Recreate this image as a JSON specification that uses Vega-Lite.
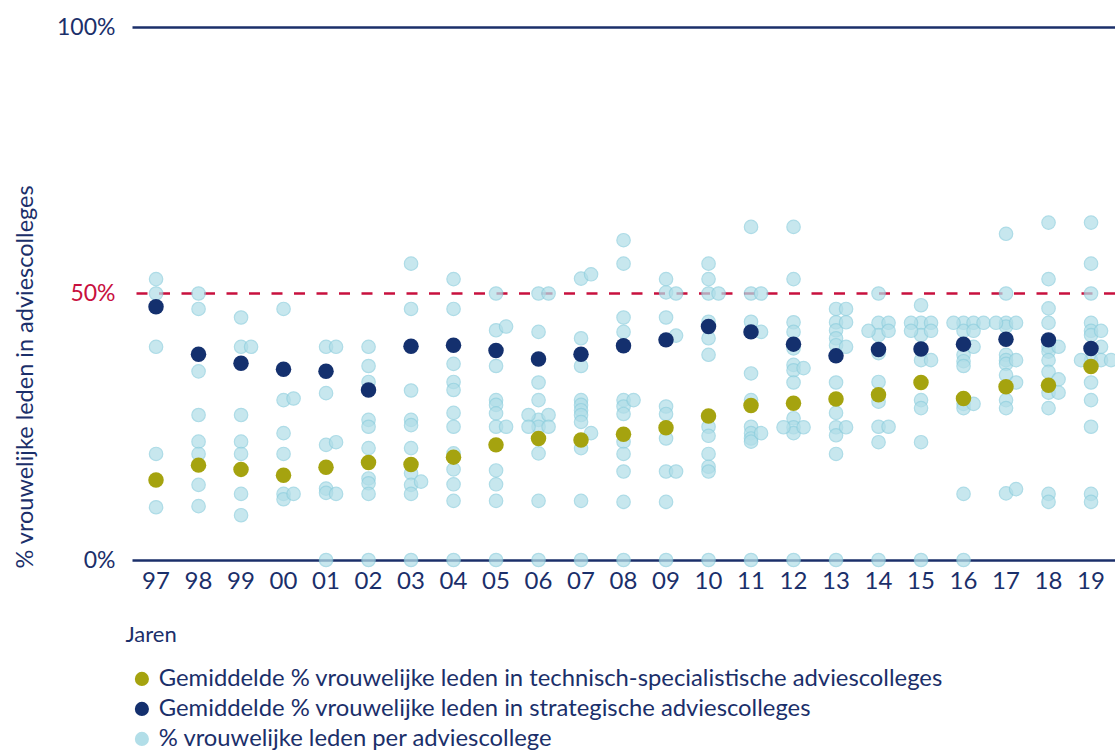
{
  "$schema": "https://vega.github.io/schema/vega-lite/v6.json",
  "autosize": {"type": "none"},
  "width": 983,
  "height": 533,
  "padding": {"left": 132, "top": 27, "right": 0, "bottom": 191},
  "background": "white",
  "config": {"view": {"stroke": null}, "font": "Lato"},
  "datasets": {
    "dots": [
      {"jaar":"97","pct":52.7,"lane":"C"},{"jaar":"97","pct":50,"lane":"C"},{"jaar":"97","pct":40,"lane":"C"},{"jaar":"97","pct":19.9,"lane":"C"},{"jaar":"97","pct":9.9,"lane":"C"},
      {"jaar":"98","pct":50,"lane":"C"},{"jaar":"98","pct":47.1,"lane":"C"},{"jaar":"98","pct":35.4,"lane":"C"},{"jaar":"98","pct":27.2,"lane":"C"},{"jaar":"98","pct":22.2,"lane":"C"},{"jaar":"98","pct":19.9,"lane":"C"},{"jaar":"98","pct":14.1,"lane":"C"},{"jaar":"98","pct":10.1,"lane":"C"},
      {"jaar":"99","pct":45.5,"lane":"C"},{"jaar":"99","pct":40,"lane":"C"},{"jaar":"99","pct":27.2,"lane":"C"},{"jaar":"99","pct":22.2,"lane":"C"},{"jaar":"99","pct":19.9,"lane":"C"},{"jaar":"99","pct":12.4,"lane":"C"},{"jaar":"99","pct":8.4,"lane":"C"},{"jaar":"99","pct":40,"lane":"R"},
      {"jaar":"00","pct":47.1,"lane":"C"},{"jaar":"00","pct":30.0,"lane":"C"},{"jaar":"00","pct":23.8,"lane":"C"},{"jaar":"00","pct":19.9,"lane":"C"},{"jaar":"00","pct":12.4,"lane":"C"},{"jaar":"00","pct":11.4,"lane":"C"},{"jaar":"00","pct":30.3,"lane":"R"},{"jaar":"00","pct":12.4,"lane":"R"},
      {"jaar":"01","pct":40,"lane":"C"},{"jaar":"01","pct":31.3,"lane":"C"},{"jaar":"01","pct":21.6,"lane":"C"},{"jaar":"01","pct":13.4,"lane":"C"},{"jaar":"01","pct":12.6,"lane":"C"},{"jaar":"01","pct":0,"lane":"C"},{"jaar":"01","pct":40,"lane":"R"},{"jaar":"01","pct":22.1,"lane":"R"},{"jaar":"01","pct":12.4,"lane":"R"},
      {"jaar":"02","pct":40,"lane":"C"},{"jaar":"02","pct":36.4,"lane":"C"},{"jaar":"02","pct":33.4,"lane":"C"},{"jaar":"02","pct":26.3,"lane":"C"},{"jaar":"02","pct":25.0,"lane":"C"},{"jaar":"02","pct":21.0,"lane":"C"},{"jaar":"02","pct":15.3,"lane":"C"},{"jaar":"02","pct":14.4,"lane":"C"},{"jaar":"02","pct":12.4,"lane":"C"},{"jaar":"02","pct":0,"lane":"C"},
      {"jaar":"03","pct":55.6,"lane":"C"},{"jaar":"03","pct":47.1,"lane":"C"},{"jaar":"03","pct":31.8,"lane":"C"},{"jaar":"03","pct":26.3,"lane":"C"},{"jaar":"03","pct":25.3,"lane":"C"},{"jaar":"03","pct":21.0,"lane":"C"},{"jaar":"03","pct":16.3,"lane":"C"},{"jaar":"03","pct":14.1,"lane":"C"},{"jaar":"03","pct":12.4,"lane":"C"},{"jaar":"03","pct":0,"lane":"C"},{"jaar":"03","pct":14.7,"lane":"R"},
      {"jaar":"04","pct":52.7,"lane":"C"},{"jaar":"04","pct":47.1,"lane":"C"},{"jaar":"04","pct":36.8,"lane":"C"},{"jaar":"04","pct":33.4,"lane":"C"},{"jaar":"04","pct":31.9,"lane":"C"},{"jaar":"04","pct":27.6,"lane":"C"},{"jaar":"04","pct":25.0,"lane":"C"},{"jaar":"04","pct":20.0,"lane":"C"},{"jaar":"04","pct":17.0,"lane":"C"},{"jaar":"04","pct":14.2,"lane":"C"},{"jaar":"04","pct":11.1,"lane":"C"},{"jaar":"04","pct":0,"lane":"C"},
      {"jaar":"05","pct":50,"lane":"C"},{"jaar":"05","pct":43.1,"lane":"C"},{"jaar":"05","pct":36.4,"lane":"C"},{"jaar":"05","pct":30.0,"lane":"C"},{"jaar":"05","pct":29.1,"lane":"C"},{"jaar":"05","pct":27.5,"lane":"C"},{"jaar":"05","pct":25.0,"lane":"C"},{"jaar":"05","pct":16.8,"lane":"C"},{"jaar":"05","pct":14.2,"lane":"C"},{"jaar":"05","pct":11.1,"lane":"C"},{"jaar":"05","pct":0,"lane":"C"},{"jaar":"05","pct":43.8,"lane":"R"},{"jaar":"05","pct":25.0,"lane":"R"},
      {"jaar":"06","pct":50,"lane":"C"},{"jaar":"06","pct":42.8,"lane":"C"},{"jaar":"06","pct":33.3,"lane":"C"},{"jaar":"06","pct":30.0,"lane":"C"},{"jaar":"06","pct":26.3,"lane":"C"},{"jaar":"06","pct":25.0,"lane":"C"},{"jaar":"06","pct":20.0,"lane":"C"},{"jaar":"06","pct":11.1,"lane":"C"},{"jaar":"06","pct":0,"lane":"C"},{"jaar":"06","pct":50,"lane":"R"},{"jaar":"06","pct":27.2,"lane":"R"},{"jaar":"06","pct":25.0,"lane":"R"},{"jaar":"06","pct":27.2,"lane":"L"},{"jaar":"06","pct":25.0,"lane":"L"},
      {"jaar":"07","pct":52.8,"lane":"C"},{"jaar":"07","pct":41.6,"lane":"C"},{"jaar":"07","pct":36.4,"lane":"C"},{"jaar":"07","pct":30.0,"lane":"C"},{"jaar":"07","pct":29.1,"lane":"C"},{"jaar":"07","pct":28.1,"lane":"C"},{"jaar":"07","pct":27.2,"lane":"C"},{"jaar":"07","pct":25.9,"lane":"C"},{"jaar":"07","pct":21.0,"lane":"C"},{"jaar":"07","pct":11.1,"lane":"C"},{"jaar":"07","pct":0,"lane":"C"},{"jaar":"07","pct":53.6,"lane":"R"},{"jaar":"07","pct":23.8,"lane":"R"},
      {"jaar":"08","pct":60.0,"lane":"C"},{"jaar":"08","pct":55.6,"lane":"C"},{"jaar":"08","pct":45.5,"lane":"C"},{"jaar":"08","pct":42.8,"lane":"C"},{"jaar":"08","pct":30.0,"lane":"C"},{"jaar":"08","pct":28.8,"lane":"C"},{"jaar":"08","pct":27.4,"lane":"C"},{"jaar":"08","pct":22.2,"lane":"C"},{"jaar":"08","pct":19.9,"lane":"C"},{"jaar":"08","pct":16.6,"lane":"C"},{"jaar":"08","pct":10.9,"lane":"C"},{"jaar":"08","pct":0,"lane":"C"},{"jaar":"08","pct":30.0,"lane":"R"},
      {"jaar":"09","pct":52.7,"lane":"C"},{"jaar":"09","pct":50.2,"lane":"C"},{"jaar":"09","pct":45.5,"lane":"C"},{"jaar":"09","pct":28.8,"lane":"C"},{"jaar":"09","pct":27.4,"lane":"C"},{"jaar":"09","pct":22.8,"lane":"C"},{"jaar":"09","pct":16.6,"lane":"C"},{"jaar":"09","pct":10.9,"lane":"C"},{"jaar":"09","pct":0,"lane":"C"},{"jaar":"09","pct":50,"lane":"R"},{"jaar":"09","pct":42.1,"lane":"R"},{"jaar":"09","pct":16.6,"lane":"R"},
      {"jaar":"10","pct":55.6,"lane":"C"},{"jaar":"10","pct":52.7,"lane":"C"},{"jaar":"10","pct":50,"lane":"C"},{"jaar":"10","pct":44.7,"lane":"C"},{"jaar":"10","pct":41.6,"lane":"C"},{"jaar":"10","pct":38.5,"lane":"C"},{"jaar":"10","pct":25.0,"lane":"C"},{"jaar":"10","pct":23.3,"lane":"C"},{"jaar":"10","pct":19.9,"lane":"C"},{"jaar":"10","pct":17.5,"lane":"C"},{"jaar":"10","pct":16.6,"lane":"C"},{"jaar":"10","pct":0,"lane":"C"},{"jaar":"10","pct":50,"lane":"R"},
      {"jaar":"11","pct":62.5,"lane":"C"},{"jaar":"11","pct":50,"lane":"C"},{"jaar":"11","pct":44.7,"lane":"C"},{"jaar":"11","pct":35.0,"lane":"C"},{"jaar":"11","pct":30.0,"lane":"C"},{"jaar":"11","pct":25.0,"lane":"C"},{"jaar":"11","pct":23.8,"lane":"C"},{"jaar":"11","pct":22.8,"lane":"C"},{"jaar":"11","pct":22.2,"lane":"C"},{"jaar":"11","pct":0,"lane":"C"},{"jaar":"11","pct":50,"lane":"R"},{"jaar":"11","pct":42.8,"lane":"R"},{"jaar":"11","pct":23.8,"lane":"R"},
      {"jaar":"12","pct":62.5,"lane":"C"},{"jaar":"12","pct":52.7,"lane":"C"},{"jaar":"12","pct":44.6,"lane":"C"},{"jaar":"12","pct":42.8,"lane":"C"},{"jaar":"12","pct":39.7,"lane":"C"},{"jaar":"12","pct":36.6,"lane":"C"},{"jaar":"12","pct":35.6,"lane":"C"},{"jaar":"12","pct":33.3,"lane":"C"},{"jaar":"12","pct":26.6,"lane":"C"},{"jaar":"12","pct":24.9,"lane":"C"},{"jaar":"12","pct":23.8,"lane":"C"},{"jaar":"12","pct":0,"lane":"C"},{"jaar":"12","pct":36.0,"lane":"R"},{"jaar":"12","pct":24.9,"lane":"R"},{"jaar":"12","pct":24.9,"lane":"L"},
      {"jaar":"13","pct":47.1,"lane":"C"},{"jaar":"13","pct":44.6,"lane":"C"},{"jaar":"13","pct":43.1,"lane":"C"},{"jaar":"13","pct":41.6,"lane":"C"},{"jaar":"13","pct":40.3,"lane":"C"},{"jaar":"13","pct":33.3,"lane":"C"},{"jaar":"13","pct":27.6,"lane":"C"},{"jaar":"13","pct":24.9,"lane":"C"},{"jaar":"13","pct":23.4,"lane":"C"},{"jaar":"13","pct":19.9,"lane":"C"},{"jaar":"13","pct":0,"lane":"C"},{"jaar":"13","pct":47.1,"lane":"R"},{"jaar":"13","pct":44.6,"lane":"R"},{"jaar":"13","pct":40.0,"lane":"R"},{"jaar":"13","pct":24.9,"lane":"R"},
      {"jaar":"14","pct":50,"lane":"C"},{"jaar":"14","pct":44.5,"lane":"C"},{"jaar":"14","pct":42.2,"lane":"C"},{"jaar":"14","pct":38.8,"lane":"C"},{"jaar":"14","pct":33.4,"lane":"C"},{"jaar":"14","pct":29.7,"lane":"C"},{"jaar":"14","pct":25.0,"lane":"C"},{"jaar":"14","pct":22.1,"lane":"C"},{"jaar":"14","pct":0,"lane":"C"},{"jaar":"14","pct":44.5,"lane":"R"},{"jaar":"14","pct":43.0,"lane":"R"},{"jaar":"14","pct":25.0,"lane":"R"},{"jaar":"14","pct":43.0,"lane":"L"},
      {"jaar":"15","pct":47.8,"lane":"C"},{"jaar":"15","pct":44.5,"lane":"C"},{"jaar":"15","pct":42.2,"lane":"C"},{"jaar":"15","pct":37.5,"lane":"C"},{"jaar":"15","pct":30.0,"lane":"C"},{"jaar":"15","pct":28.5,"lane":"C"},{"jaar":"15","pct":22.1,"lane":"C"},{"jaar":"15","pct":0,"lane":"C"},{"jaar":"15","pct":44.5,"lane":"L"},{"jaar":"15","pct":43.0,"lane":"L"},{"jaar":"15","pct":44.5,"lane":"R"},{"jaar":"15","pct":43.0,"lane":"R"},{"jaar":"15","pct":37.5,"lane":"R"},
      {"jaar":"16","pct":44.5,"lane":"C"},{"jaar":"16","pct":43.0,"lane":"C"},{"jaar":"16","pct":38.5,"lane":"C"},{"jaar":"16","pct":37.3,"lane":"C"},{"jaar":"16","pct":36.4,"lane":"C"},{"jaar":"16","pct":29.3,"lane":"C"},{"jaar":"16","pct":28.5,"lane":"C"},{"jaar":"16","pct":12.4,"lane":"C"},{"jaar":"16","pct":0,"lane":"C"},{"jaar":"16","pct":44.5,"lane":"L"},{"jaar":"16","pct":44.5,"lane":"R"},{"jaar":"16","pct":43.0,"lane":"R"},{"jaar":"16","pct":40.0,"lane":"R"},{"jaar":"16","pct":29.3,"lane":"R"},{"jaar":"16","pct":44.5,"lane":"R2"},
      {"jaar":"17","pct":61.2,"lane":"C"},{"jaar":"17","pct":50,"lane":"C"},{"jaar":"17","pct":44.5,"lane":"C"},{"jaar":"17","pct":43.8,"lane":"C"},{"jaar":"17","pct":38.5,"lane":"C"},{"jaar":"17","pct":37.5,"lane":"C"},{"jaar":"17","pct":36.8,"lane":"C"},{"jaar":"17","pct":34.7,"lane":"C"},{"jaar":"17","pct":30.0,"lane":"C"},{"jaar":"17","pct":28.5,"lane":"C"},{"jaar":"17","pct":12.5,"lane":"C"},{"jaar":"17","pct":44.5,"lane":"L"},{"jaar":"17","pct":44.5,"lane":"R"},{"jaar":"17","pct":37.5,"lane":"R"},{"jaar":"17","pct":33.3,"lane":"R"},{"jaar":"17","pct":13.3,"lane":"R"},
      {"jaar":"18","pct":63.3,"lane":"C"},{"jaar":"18","pct":52.7,"lane":"C"},{"jaar":"18","pct":47.2,"lane":"C"},{"jaar":"18","pct":44.5,"lane":"C"},{"jaar":"18","pct":40.0,"lane":"C"},{"jaar":"18","pct":39.1,"lane":"C"},{"jaar":"18","pct":37.5,"lane":"C"},{"jaar":"18","pct":35.3,"lane":"C"},{"jaar":"18","pct":31.4,"lane":"C"},{"jaar":"18","pct":28.5,"lane":"C"},{"jaar":"18","pct":12.4,"lane":"C"},{"jaar":"18","pct":10.9,"lane":"C"},{"jaar":"18","pct":40.0,"lane":"R"},{"jaar":"18","pct":33.9,"lane":"R"},{"jaar":"18","pct":31.4,"lane":"R"},
      {"jaar":"19","pct":63.3,"lane":"C"},{"jaar":"19","pct":55.6,"lane":"C"},{"jaar":"19","pct":50,"lane":"C"},{"jaar":"19","pct":44.5,"lane":"C"},{"jaar":"19","pct":43.0,"lane":"C"},{"jaar":"19","pct":42.2,"lane":"C"},{"jaar":"19","pct":37.5,"lane":"C"},{"jaar":"19","pct":33.3,"lane":"C"},{"jaar":"19","pct":30.0,"lane":"C"},{"jaar":"19","pct":25.0,"lane":"C"},{"jaar":"19","pct":12.4,"lane":"C"},{"jaar":"19","pct":10.9,"lane":"C"},{"jaar":"19","pct":43.0,"lane":"R"},{"jaar":"19","pct":40.0,"lane":"R"},{"jaar":"19","pct":37.5,"lane":"R"},{"jaar":"19","pct":37.5,"lane":"L"},{"jaar":"19","pct":37.5,"lane":"R2"}
    ],
    "means": [
      {"jaar":"97","tech":15.0,"strat":47.5},{"jaar":"98","tech":17.8,"strat":38.6},{"jaar":"99","tech":17.0,"strat":36.9},{"jaar":"00","tech":15.9,"strat":35.8},
      {"jaar":"01","tech":17.4,"strat":35.4},{"jaar":"02","tech":18.3,"strat":31.9},{"jaar":"03","tech":17.9,"strat":40.1},{"jaar":"04","tech":19.3,"strat":40.3},
      {"jaar":"05","tech":21.6,"strat":39.3},{"jaar":"06","tech":22.8,"strat":37.7},{"jaar":"07","tech":22.5,"strat":38.6},{"jaar":"08","tech":23.6,"strat":40.2},
      {"jaar":"09","tech":24.8,"strat":41.3},{"jaar":"10","tech":27.0,"strat":43.8},{"jaar":"11","tech":29.0,"strat":42.8},{"jaar":"12","tech":29.4,"strat":40.5},
      {"jaar":"13","tech":30.2,"strat":38.3},{"jaar":"14","tech":31.0,"strat":39.5},{"jaar":"15","tech":33.3,"strat":39.6},{"jaar":"16","tech":30.3,"strat":40.5},
      {"jaar":"17","tech":32.5,"strat":41.4},{"jaar":"18","tech":32.8,"strat":41.3},{"jaar":"19","tech":36.3,"strat":39.7}
    ],
    "labels": [
      {"k":"tech","reeks":"Gemiddelde % vrouwelijke leden in technisch-specialistische adviescolleges"},
      {"k":"strat","reeks":"Gemiddelde % vrouwelijke leden in strategische adviescolleges"}
    ]
  },
  "encoding": {
    "x": {
      "field": "jaar", "type": "nominal",
      "scale": {"type": "band", "domain": ["97","98","99","00","01","02","03","04","05","06","07","08","09","10","11","12","13","14","15","16","17","18","19"], "paddingInner": 0, "paddingOuter": 0.065},
      "axis": {
        "title": "Jaren", "titleFont": "Lato", "titleFontSize": 22, "titleFontWeight": "normal", "titleColor": "#1b2f6a",
        "titleAnchor": "start", "titleAlign": "left", "titleX": -7, "titleY": 81, "titleBaseline": "alphabetic",
        "labelAngle": 0, "labelFont": "Lato", "labelFontSize": 24, "labelColor": "#1b2f6a", "labelPadding": 9,
        "domain": false, "ticks": false, "grid": false
      }
    },
    "y": {
      "field": "pct", "type": "quantitative",
      "scale": {"domain": [0, 100], "nice": false},
      "axis": {
        "title": "% vrouwelijke leden in adviescolleges", "titleFont": "Lato", "titleFontSize": 23.5, "titleFontWeight": "normal", "titleColor": "#1b2f6a",
        "titleAngle": -90, "titleAlign": "left", "titleBaseline": "middle", "titleX": -107, "titleY": 541,
        "values": [0, 50, 100], "labelExpr": "datum.value + '%'",
        "labelFont": "Lato", "labelFontSize": 23, "labelPadding": 17,
        "labelColor": {"condition": {"test": "datum.value == 50", "value": "#c8103e"}, "value": "#1b2f6a"},
        "domain": false, "ticks": false, "grid": true, "gridWidth": 2.5,
        "gridColor": {"condition": {"test": "datum.value == 50", "value": "transparent"}, "value": "#1b2f6a"}
      }
    }
  },
  "layer": [
    {
      "data": {"values": [{"pct": 50}]},
      "mark": {"type": "rule", "color": "#c8103e", "strokeWidth": 2.5, "strokeDash": [11, 11.5]},
      "encoding": {"y": {"field": "pct", "type": "quantitative"}, "x": null}
    },
    {
      "data": {"name": "dots"},
      "mark": {"type": "point", "filled": true, "shape": "circle", "size": 180, "opacity": 0.72, "stroke": "#8fcfde", "strokeWidth": 1.2},
      "encoding": {
        "xOffset": {"field": "lane", "type": "nominal", "scale": {"type": "point", "domain": ["L2","L","C","R","R2"], "range": [1.3, 41.3], "padding": 0}},
        "color": {"datum": "% vrouwelijke leden per adviescollege", "type": "nominal"}
      }
    },
    {
      "data": {"name": "means"},
      "transform": [{"fold": ["tech", "strat"], "as": ["k", "pct"]},
                    {"lookup": "k", "from": {"data": {"name": "labels"}, "key": "k", "fields": ["reeks"]}}],
      "mark": {"type": "point", "filled": true, "shape": "circle", "size": 240, "opacity": 1},
      "encoding": {
        "color": {
          "field": "reeks", "type": "nominal",
          "scale": {
            "domain": ["Gemiddelde % vrouwelijke leden in technisch-specialistische adviescolleges", "Gemiddelde % vrouwelijke leden in strategische adviescolleges", "% vrouwelijke leden per adviescollege"],
            "range": ["#a5a30f", "#14306e", "#b2dee8"]
          },
          "legend": {
            "title": null, "orient": "none", "legendX": -2, "legendY": 640, "direction": "vertical",
            "labelFont": "Lato", "labelFontSize": 23.8, "labelColor": "#1b2f6a", "labelLimit": 1000,
            "symbolType": "circle", "symbolSize": 200, "symbolOpacity": 1, "symbolStrokeWidth": 0,
            "rowPadding": 5, "labelOffset": 5,
            "encode": {"symbols": {"update": {"opacity": {"value": 1}, "fillOpacity": {"value": 1}}}}
          }
        }
      }
    }
  ],
  "resolve": {"scale": {"color": "shared"}}
}
